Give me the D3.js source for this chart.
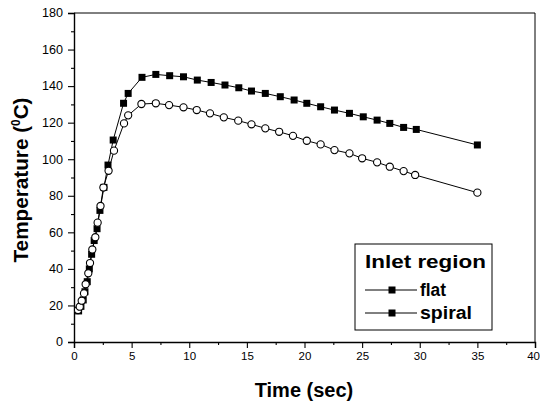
<!DOCTYPE html>
<html>
<head>
<meta charset="utf-8">
<script src="https://cdn.jsdelivr.net/npm/d3@7"></script>
<style>
  html, body { margin: 0; padding: 0; background: #fff; }
  svg { display: block; }
  text { font-family: "Liberation Sans", Arial, Helvetica, sans-serif; fill: #000; }
</style>
</head>
<body>
<svg id="chart" width="540" height="407"></svg>
<script>
// Temperature history for the two inlet-region designs
const flatTime = [0.4, 0.6, 0.8, 0.95, 1.15, 1.33, 1.53, 1.75, 2.0, 2.25, 2.6, 2.95, 3.4, 4.3, 4.7,
  5.9, 7.1, 8.3, 9.5, 10.7, 11.9, 13.1, 14.3, 15.4, 16.6, 17.9, 19.1, 20.2, 21.4, 22.6, 23.9,
  25.1, 26.3, 27.4, 28.6, 29.7, 35.0];
const flatTemp = [17, 19.5, 23, 27.5, 33, 40, 48, 55.5, 62, 72, 84.6, 96.8, 110.5, 130.6, 136,
  144.8, 146.4, 145.7, 145.1, 143.3, 142, 140.6, 139.1, 137.3, 136, 134.2, 132.4, 130.6, 128.7,
  126.9, 125.1, 123.2, 121.4, 119.6, 117.4, 116.3, 107.8];

const spiralTime = [0.35, 0.5, 0.67, 0.87, 1.01, 1.24, 1.39, 1.59, 1.85, 2.05, 2.3, 2.55, 3.0,
  3.47, 4.34, 4.7, 5.85, 7.1, 8.25, 9.5, 10.65, 11.8, 13.0, 14.25, 15.4, 16.6, 17.8, 19.0, 20.2,
  21.4, 22.6, 23.9, 25.0, 26.3, 27.4, 28.6, 29.6, 35.0];
const spiralTemp = [17.5, 19.3, 22.6, 26.6, 31.6, 37.6, 43.2, 50.6, 57.3, 65.3, 74.4, 84.5, 93.7,
  104.7, 119.6, 124, 130.2, 130.6, 129.6, 128.4, 126.9, 125.1, 122.9, 121.1, 119.1, 116.9, 115,
  112.8, 110.1, 108.1, 105, 103.2, 100.5, 98.3, 95.9, 93.5, 91.4, 81.7];

const xTicks = [0, 5, 10, 15, 20, 25, 30, 35, 40];
const yTicks = [0, 20, 40, 60, 80, 100, 120, 140, 160, 180];
const legendTitle = "Inlet region";
const seriesNames = ["flat", "spiral"];

const svg = d3.select("#chart");
const plotL = 74, plotR = 535, plotT = 13, plotB = 342;

const x = d3.scaleLinear().domain([0, 40]).range([plotL, plotR]);
const y = d3.scaleLinear().domain([0, 180]).range([plotB, plotT]);

// frame (top and right edges)
svg.append("path")
  .attr("d", `M${plotL},${plotT}H${plotR}V${plotB}`)
  .attr("fill", "none").attr("stroke", "#000").attr("stroke-width", 1);

// minor ticks
const xMinor = d3.range(2.5, 40, 5);
const yMinor = d3.range(10, 180, 20);

const xAxis = svg.append("g").attr("transform", `translate(0,${plotB})`)
  .call(d3.axisBottom(x).tickValues(xTicks).tickSize(6).tickPadding(4).tickFormat(d3.format("d")));
svg.append("g").attr("transform", `translate(0,${plotB})`)
  .call(d3.axisBottom(x).tickValues(xMinor).tickSize(3).tickFormat(""))
  .call(g => g.select(".domain").remove());

const yAxis = svg.append("g").attr("transform", `translate(${plotL},0)`)
  .call(d3.axisLeft(y).tickValues(yTicks).tickSize(6).tickPadding(5).tickFormat(d3.format("d")));
svg.append("g").attr("transform", `translate(${plotL},0)`)
  .call(d3.axisLeft(y).tickValues(yMinor).tickSize(3).tickFormat(""))
  .call(g => g.select(".domain").remove());

svg.selectAll(".domain").attr("stroke-width", 1.4);
svg.selectAll(".tick line").attr("stroke-width", 1.1);

xAxis.selectAll("text")
  .style("font-size", "11.5px")
  .attr("textLength", d => String(d).length * 6.4)
  .attr("lengthAdjust", "spacingAndGlyphs");
// keep the last label inside the right edge
xAxis.selectAll(".tick").filter(d => d === 40).select("text")
  .attr("text-anchor", "end").attr("x", 4.5);
yAxis.selectAll("text")
  .style("font-size", "12px")
  .attr("textLength", d => String(d).length * 7.0)
  .attr("lengthAdjust", "spacingAndGlyphs");

// axis titles
svg.append("text")
  .attr("x", 304).attr("y", 397)
  .attr("text-anchor", "middle")
  .style("font-size", "20px").style("font-weight", "bold")
  .text("Time (sec)");

const yTitle = svg.append("text")
  .attr("transform", "translate(28,180) rotate(-90)")
  .attr("text-anchor", "middle")
  .style("font-size", "21px").style("font-weight", "bold")
  .attr("textLength", 165).attr("lengthAdjust", "spacingAndGlyphs");
yTitle.append("tspan").text("Temperature (");
yTitle.append("tspan").attr("dy", -8).style("font-size", "12px").text("0");
yTitle.append("tspan").attr("dy", 8).text("C)");

// series
const line = d3.line().x(d => x(d[0])).y(d => y(d[1]));
const flatPts = flatTime.map((t, i) => [t, flatTemp[i]]);
const spiralPts = spiralTime.map((t, i) => [t, spiralTemp[i]]);

svg.append("path").datum(spiralPts).attr("d", line)
  .attr("fill", "none").attr("stroke", "#000").attr("stroke-width", 1);
svg.append("path").datum(flatPts).attr("d", line)
  .attr("fill", "none").attr("stroke", "#000").attr("stroke-width", 1);

const sq = 7;
svg.append("g").selectAll("rect").data(flatPts).join("rect")
  .attr("x", d => x(d[0]) - sq / 2).attr("y", d => y(d[1]) - sq / 2)
  .attr("width", sq).attr("height", sq).attr("fill", "#000");

svg.append("g").selectAll("circle").data(spiralPts).join("circle")
  .attr("cx", d => x(d[0])).attr("cy", d => y(d[1])).attr("r", 3.6)
  .attr("fill", "#fff").attr("stroke", "#000").attr("stroke-width", 1.1);

// legend
const lg = svg.append("g");
lg.append("rect").attr("x", 355).attr("y", 244).attr("width", 137).attr("height", 86)
  .attr("fill", "#fff").attr("stroke", "#000").attr("stroke-width", 1);
lg.append("text").attr("x", 365).attr("y", 268)
  .style("font-size", "18px").style("font-weight", "bold")
  .attr("textLength", 121).attr("lengthAdjust", "spacingAndGlyphs")
  .text(legendTitle);
const rowY = [290, 313];
const nameLen = [26, 52];
seriesNames.forEach((name, i) => {
  lg.append("line").attr("x1", 365).attr("x2", 417).attr("y1", rowY[i]).attr("y2", rowY[i])
    .attr("stroke", "#000").attr("stroke-width", 1);
  lg.append("rect").attr("x", 392 - sq / 2).attr("y", rowY[i] - sq / 2)
    .attr("width", sq).attr("height", sq).attr("fill", "#000");
  lg.append("text").attr("x", 420).attr("y", rowY[i] + 6)
    .style("font-size", "18px").style("font-weight", "bold")
    .attr("textLength", nameLen[i]).attr("lengthAdjust", "spacingAndGlyphs")
    .text(name);
});
</script>
</body>
</html>
